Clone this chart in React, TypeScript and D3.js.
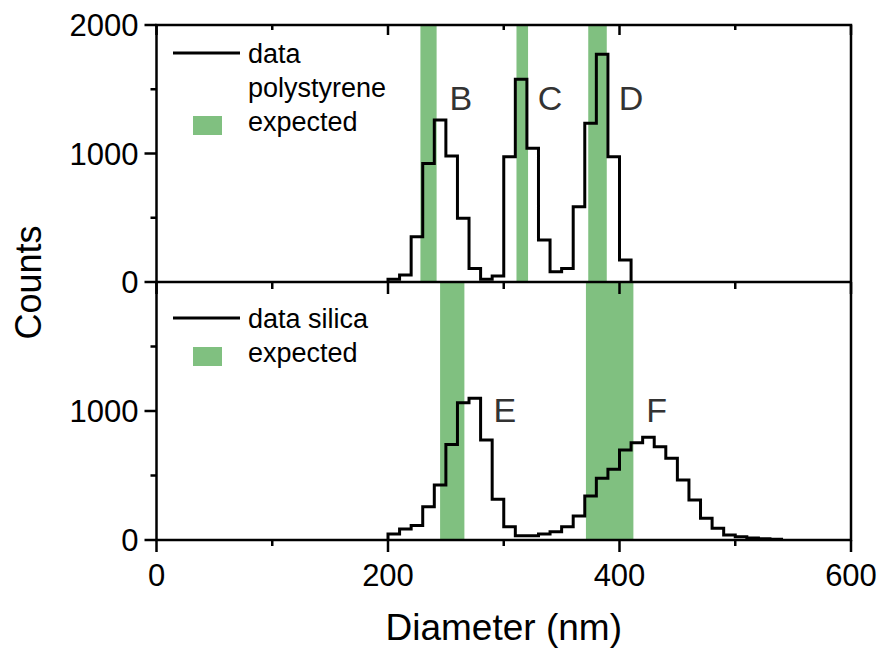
import React from "react";
import * as d3 from "d3";

const binStartTop = [200,210,220,230,240,250,260,270,280,290,300,310,320,330,340,350,360,370,380,390,400];
const countsPolystyrene = [21,54,353,923,1261,981,496,106,21,47,975,1577,1040,327,80,106,586,1235,1772,975,171];

const binStartBottom = [200,210,220,230,240,250,260,270,280,290,300,310,320,330,340,350,360,370,380,390,400,410,420,430,440,450,460,470,480,490,500,510,520,530];
const countsSilica = [46,85,112,258,426,740,1064,1098,775,315,103,33,33,46,64,103,186,341,478,548,698,754,796,723,633,465,310,168,91,39,26,16,10,5];

const expectedTop = [[228,242],[311,321],[373,389]];
const expectedBottom = [[245,266],[371,412]];

const peakLabelsTop = [{t:"B",x:263},{t:"C",x:340},{t:"D",x:410}];
const peakLabelsBottom = [{t:"E",x:301},{t:"F",x:432}];

const xTicksMajor = [0,200,400,600];
const xTicksMinor = [100,300,500];
const yTicksTop = [0,1000,2000];
const yTicksBottom = [0,1000];
const yTicksMinor = [500,1500];

const BIN = 10;
const GREEN = "#80c080";
const FONT = "'Liberation Sans', Arial, sans-serif";

export default function App() {
  const W = 881, H = 652;
  const L = 156.5, R = 851, T = 25, M = 282, B = 540;
  const x = d3.scaleLinear().domain([0, 600]).range([L, R]);
  const yTop = d3.scaleLinear().domain([0, 2000]).range([M, T]);
  const yBot = d3.scaleLinear().domain([0, 2000]).range([B, M]);

  const histPath = (starts: number[], vals: number[], y: d3.ScaleLinear<number, number>) => {
    const pts: [number, number][] = [[starts[0], 0]];
    starts.forEach((s, i) => { pts.push([s, vals[i]]); pts.push([s + BIN, vals[i]]); });
    pts.push([starts[starts.length - 1] + BIN, 0]);
    return d3.line<[number, number]>().x(d => x(d[0])).y(d => y(d[1]))(pts) || "";
  };

  const axisStroke = { stroke: "#000", strokeWidth: 2.5 };
  const tickFs = 31;

  return (
    <svg width={W} height={H} style={{ position: "absolute", left: 0, top: 0, background: "#fff" }} fontFamily={FONT}>
      <rect x={0} y={0} width={W} height={H} fill="#fff" />
      {expectedTop.map(([a, b], i) => (
        <rect key={"et" + i} x={x(a)} y={T} width={x(b) - x(a)} height={M - T} fill={GREEN} />
      ))}
      {expectedBottom.map(([a, b], i) => (
        <rect key={"eb" + i} x={x(a)} y={M} width={x(b) - x(a)} height={B - M} fill={GREEN} />
      ))}
      <path d={histPath(binStartTop, countsPolystyrene, yTop)} fill="none" stroke="#000" strokeWidth={3} strokeLinejoin="miter" />
      <path d={histPath(binStartBottom, countsSilica, yBot)} fill="none" stroke="#000" strokeWidth={3} strokeLinejoin="miter" />

      <rect x={L} y={T} width={R - L} height={B - T} fill="none" {...axisStroke} />
      <line x1={L} x2={R} y1={M} y2={M} {...axisStroke} />

      {xTicksMajor.map(v => <line key={"xb" + v} x1={x(v)} x2={x(v)} y1={B} y2={B + 12} {...axisStroke} />)}
      {xTicksMinor.map(v => <line key={"xbm" + v} x1={x(v)} x2={x(v)} y1={B} y2={B + 6} {...axisStroke} />)}
      {xTicksMajor.map(v => <line key={"xt" + v} x1={x(v)} x2={x(v)} y1={T} y2={T + 10} {...axisStroke} />)}
      {xTicksMinor.map(v => <line key={"xtm" + v} x1={x(v)} x2={x(v)} y1={T} y2={T + 5} {...axisStroke} />)}
      {xTicksMajor.map(v => <line key={"xm" + v} x1={x(v)} x2={x(v)} y1={M} y2={M + 12} {...axisStroke} />)}
      {xTicksMinor.map(v => <line key={"xmm" + v} x1={x(v)} x2={x(v)} y1={M} y2={M + 7} {...axisStroke} />)}

      {yTicksTop.map(v => <line key={"yt" + v} x1={L - 12} x2={L} y1={yTop(v)} y2={yTop(v)} {...axisStroke} />)}
      {yTicksMinor.map(v => <line key={"ytm" + v} x1={L - 6} x2={L} y1={yTop(v)} y2={yTop(v)} {...axisStroke} />)}
      {yTicksBottom.map(v => <line key={"yb" + v} x1={L - 12} x2={L} y1={yBot(v)} y2={yBot(v)} {...axisStroke} />)}
      {yTicksMinor.map(v => <line key={"ybm" + v} x1={L - 6} x2={L} y1={yBot(v)} y2={yBot(v)} {...axisStroke} />)}

      {yTicksTop.map(v => (
        <text key={"ytl" + v} x={L - 18} y={yTop(v)} dy="0.36em" textAnchor="end" fontSize={tickFs} fill="#000">{v}</text>
      ))}
      {yTicksBottom.map(v => (
        <text key={"ybl" + v} x={L - 18} y={yBot(v)} dy="0.36em" textAnchor="end" fontSize={tickFs} fill="#000">{v}</text>
      ))}
      {xTicksMajor.map(v => (
        <text key={"xl" + v} x={x(v)} y={B + 46} textAnchor="middle" fontSize={tickFs} fill="#000">{v}</text>
      ))}

      <text x={(L + R) / 2} y={640} textAnchor="middle" fontSize={37} fill="#000">Diameter (nm)</text>
      <text transform={`translate(41,${(T + B) / 2}) rotate(-90)`} textAnchor="middle" fontSize={36} fill="#000">Counts</text>

      {peakLabelsTop.map(p => (
        <text key={p.t} x={x(p.x)} y={110} textAnchor="middle" fontSize={34} fill="#333">{p.t}</text>
      ))}
      {peakLabelsBottom.map(p => (
        <text key={p.t} x={x(p.x)} y={422} textAnchor="middle" fontSize={34} fill="#333">{p.t}</text>
      ))}

      <line x1={173} x2={240} y1={53} y2={53} stroke="#000" strokeWidth={3} />
      <text x={248} y={63} fontSize={27} fill="#000">data</text>
      <text x={248} y={97} fontSize={27} fill="#000">polystyrene</text>
      <rect x={193} y={116} width={29} height={19} fill={GREEN} />
      <text x={248} y={131} fontSize={27} fill="#000">expected</text>

      <line x1={173} x2={240} y1={318} y2={318} stroke="#000" strokeWidth={3} />
      <text x={248} y={328} fontSize={27} fill="#000">data silica</text>
      <rect x={193} y={347} width={29} height={19} fill={GREEN} />
      <text x={248} y={362} fontSize={27} fill="#000">expected</text>
    </svg>
  );
}
